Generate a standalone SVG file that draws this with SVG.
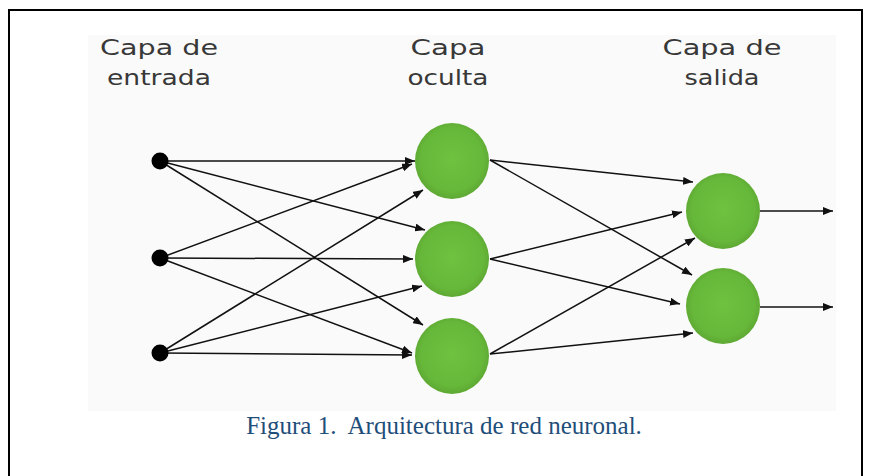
<svg xmlns="http://www.w3.org/2000/svg" width="870" height="476" viewBox="0 0 870 476">
  <style>
    .lbl { font-family: "DejaVu Sans", "Liberation Sans", sans-serif; font-size: 22px; fill: #383838; text-anchor: middle; }
    .cap { font-family: "Liberation Serif", "Times New Roman", serif; font-size: 25px; fill: #1f4e79; text-anchor: middle; }
    .edge { stroke: #111; stroke-width: 1.5; fill: none; marker-end: url(#arr); }
    .neuron { fill: url(#grn); }
    .inp { fill: #000; }
  </style>
  <defs>
    <marker id="arr" markerUnits="userSpaceOnUse" markerWidth="10" markerHeight="8" refX="10" refY="4" orient="auto">
      <path d="M0,0 L10,4 L0,8 z" fill="#111"/>
    </marker>
    <radialGradient id="grn" cx="50%" cy="48%" r="52%">
      <stop offset="0" stop-color="#6fc140"/>
      <stop offset="0.8" stop-color="#66b83a"/>
      <stop offset="1" stop-color="#5ea833"/>
    </radialGradient>
  </defs>
  <rect width="870" height="476" fill="#fff"/>
  <rect x="88" y="35" width="748" height="376" fill="#fafafa"/>
  <path d="M9,480 V10 H862 V480" fill="none" stroke="#000" stroke-width="2"/>

  <g id="labels">
    <text class="lbl" x="159" y="55" textLength="118" lengthAdjust="spacingAndGlyphs">Capa de</text>
    <text class="lbl" x="159" y="85" textLength="104" lengthAdjust="spacingAndGlyphs">entrada</text>
    <text class="lbl" x="448" y="55" textLength="75" lengthAdjust="spacingAndGlyphs">Capa</text>
    <text class="lbl" x="448" y="85" textLength="81" lengthAdjust="spacingAndGlyphs">oculta</text>
    <text class="lbl" x="722" y="55" textLength="119" lengthAdjust="spacingAndGlyphs">Capa de</text>
    <text class="lbl" x="722" y="85" textLength="75" lengthAdjust="spacingAndGlyphs">salida</text>
  </g>

  <g id="connectors">
    <line class="edge" x1="160" y1="161" x2="415" y2="161"/>
    <line class="edge" x1="160" y1="161" x2="425" y2="230"/>
    <line class="edge" x1="160" y1="161" x2="423" y2="325"/>
    <line class="edge" x1="160" y1="258" x2="412" y2="164"/>
    <line class="edge" x1="160" y1="258" x2="413" y2="259"/>
    <line class="edge" x1="160" y1="258" x2="412" y2="353"/>
    <line class="edge" x1="160" y1="353" x2="423" y2="190"/>
    <line class="edge" x1="160" y1="353" x2="422" y2="286"/>
    <line class="edge" x1="160" y1="353" x2="412" y2="355"/>
    <line class="edge" x1="490" y1="160" x2="693" y2="182"/>
    <line class="edge" x1="490" y1="160" x2="692" y2="275"/>
    <line class="edge" x1="490" y1="259" x2="682" y2="212"/>
    <line class="edge" x1="490" y1="259" x2="680" y2="304"/>
    <line class="edge" x1="490" y1="354" x2="695" y2="238"/>
    <line class="edge" x1="490" y1="354" x2="693" y2="333"/>
    <line class="edge" x1="760" y1="211" x2="833" y2="211"/>
    <line class="edge" x1="760" y1="307" x2="833" y2="307"/>
  </g>

  <g id="in1"><circle class="inp" cx="160" cy="161" r="8.5"/></g>
  <g id="in2"><circle class="inp" cx="160" cy="258" r="8.5"/></g>
  <g id="in3"><circle class="inp" cx="160" cy="353" r="8.5"/></g>
  <g id="h1"><ellipse class="neuron" cx="452" cy="161" rx="37" ry="38"/></g>
  <g id="h2"><ellipse class="neuron" cx="452" cy="259" rx="37" ry="38"/></g>
  <g id="h3"><ellipse class="neuron" cx="452" cy="356" rx="37" ry="38"/></g>
  <g id="o1"><ellipse class="neuron" cx="723" cy="211" rx="37" ry="38"/></g>
  <g id="o2"><ellipse class="neuron" cx="723" cy="306" rx="37" ry="38"/></g>

  <g id="caption">
    <text class="cap" x="444" y="434" xml:space="preserve">Figura 1.  Arquitectura de red neuronal.</text>
  </g>
</svg>
